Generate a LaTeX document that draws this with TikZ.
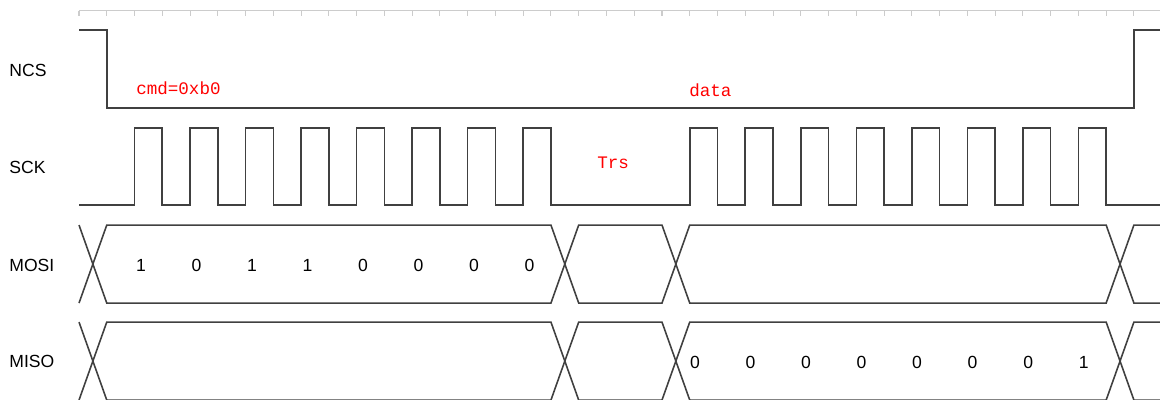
\documentclass[tikz,border=0pt]{standalone}
\usepackage{fontspec}
\setmainfont{Liberation Sans}
\newfontfamily\notefont{Liberation Mono}
\begin{document}
\begin{tikzpicture}[x=0.5552cm, y=-0.02cm,
		wave/.style={draw=black!75, line width=0.9pt},
		ruler/.style={draw=black!20, line width=0.6pt},
		sig/.style={anchor=base west, inner sep=0pt, font=\fontsize{10}{12}\selectfont},
		bit/.style={anchor=base, inner sep=0pt, font=\fontsize{10}{12}\selectfont},
		note/.style={anchor=base west, inner sep=0pt, text=red, font=\notefont\fontsize{10}{12}\selectfont}]
			\useasboundingbox (-2.846, 0) rectangle (38.94, 399);

			% ruler
			\draw[ruler] (0, 10.5) -- (38.94, 10.5);
			\foreach \i in {0,...,38}
				\draw[ruler] (\i, 10.5) -- (\i, 16);

			% signal names
			\node[sig] (ncs) at (-2.52, 76) {NCS};
			\node[sig] (sck) at (-2.52, 173) {SCK};
			\node[sig] (mosi) at (-2.52, 271) {MOSI};
			\node[sig] (miso) at (-2.52, 367) {MISO};

			% NCS
			\draw[wave] (0, 30) -- (1, 30) -- (1, 108) -- (38, 108) -- (38, 30) -- (38.94, 30);

			% SCK
			\draw[wave] (0, 205) -- (2, 205) |- (3, 128) |- (4, 205) |- (5, 128) |- (6, 205)
				|- (7, 128) |- (8, 205) |- (9, 128) |- (10, 205) |- (11, 128) |- (12, 205)
				|- (13, 128) |- (14, 205) |- (15, 128) |- (16, 205) |- (17, 128) |- (22, 205)
				|- (23, 128) |- (24, 205) |- (25, 128) |- (26, 205) |- (27, 128) |- (28, 205)
				|- (29, 128) |- (30, 205) |- (31, 128) |- (32, 205) |- (33, 128) |- (34, 205)
				|- (35, 128) |- (36, 205) |- (37, 128) |- (38.94, 205);

			% MOSI
			\draw[wave] (0, 303) -- (1, 225) -- (17, 225) -- (18, 303) -- (21, 303) -- (22, 225) -- (37, 225) -- (38, 303) -- (38.94, 303);
			\draw[wave] (0, 225) -- (1, 303) -- (17, 303) -- (18, 225) -- (21, 225) -- (22, 303) -- (37, 303) -- (38, 225) -- (38.94, 225);

			% MISO
			\draw[wave] (0, 400) -- (1, 322) -- (17, 322) -- (18, 400) -- (21, 400) -- (22, 322) -- (37, 322) -- (38, 400) -- (38.94, 400);
			\draw[wave] (0, 322) -- (1, 400) -- (17, 400) -- (18, 322) -- (21, 322) -- (22, 400) -- (37, 400) -- (38, 322) -- (38.94, 322);

			% MOSI bits
			\node[bit] (o1) at (2.23, 271) {1};
			\node[bit] (o2) at (4.23, 271) {0};
			\node[bit] (o3) at (6.23, 271) {1};
			\node[bit] (o4) at (8.23, 271) {1};
			\node[bit] (o5) at (10.23, 271) {0};
			\node[bit] (o6) at (12.23, 271) {0};
			\node[bit] (o7) at (14.23, 271) {0};
			\node[bit] (o8) at (16.23, 271) {0};

			% MISO bits
			\node[bit] (i1) at (22.19, 368) {0};
			\node[bit] (i2) at (24.19, 368) {0};
			\node[bit] (i3) at (26.19, 368) {0};
			\node[bit] (i4) at (28.19, 368) {0};
			\node[bit] (i5) at (30.19, 368) {0};
			\node[bit] (i6) at (32.19, 368) {0};
			\node[bit] (i7) at (34.19, 368) {0};
			\node[bit] (i8) at (36.19, 368) {1};

			% notes
			\node[note] (cmd) at (2.05, 94) {cmd=0xb0};
			\node[note] (data) at (21.97, 96) {data};
			\node[note] (trs) at (18.66, 168) {Trs};
		\end{tikzpicture}
\end{document}
